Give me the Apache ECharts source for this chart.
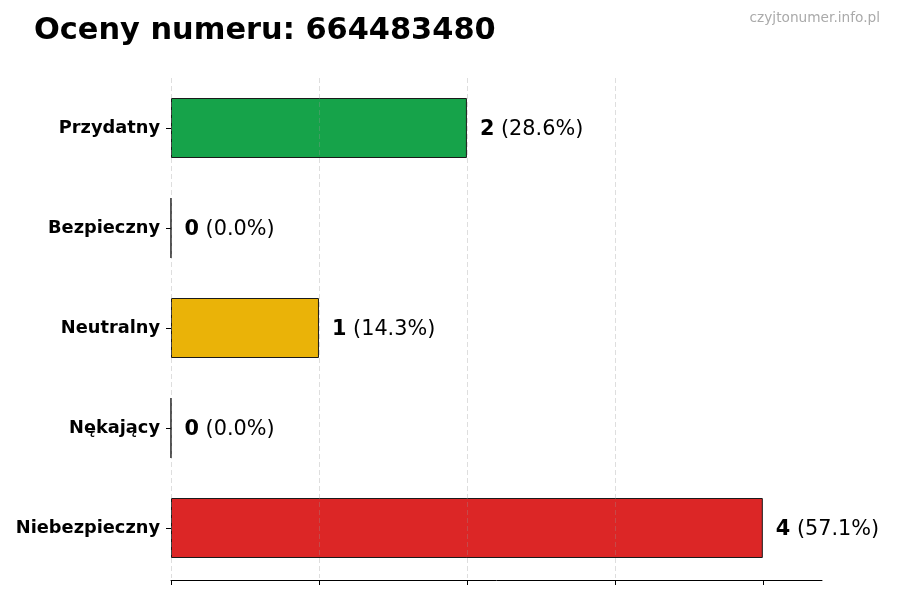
<!DOCTYPE html>
<html>
<head>
<meta charset="utf-8">
<script src="https://cdn.jsdelivr.net/npm/echarts@6/dist/echarts.min.js"></script>
<style>
html,body{margin:0;padding:0;background:#fff;}
#chart{width:900px;height:600px;}
</style>
</head>
<body>
<div id="chart"></div>
<script>
const titleText = 'Oceny numeru: 664483480';
const watermark = 'czyjtonumer.info.pl';
const categories = ['Przydatny', 'Bezpieczny', 'Neutralny', 'Nękający', 'Niebezpieczny'];
const values = [2, 0, 1, 0, 4];
const barColors = ['#16a34a', '#2563eb', '#eab308', '#ea580c', '#dc2626'];
const xTicks = [0, 1, 2, 3, 4];
const xMax = 4.4;

const total = values.reduce((a, b) => a + b, 0);
const font = 'DejaVu Sans';

const chart = echarts.init(document.getElementById('chart'));
chart.setOption({
  animation: false,
  backgroundColor: '#fff',
  textStyle: { fontFamily: font },
  title: [
    {
      text: titleText,
      left: 29,
      top: 11,
      textStyle: { fontFamily: font, fontSize: 30.4, fontWeight: 'bold', color: '#000' }
    },
    {
      text: watermark,
      right: 15,
      top: 6,
      textStyle: { fontFamily: font, fontSize: 13.7, fontWeight: 'normal', color: '#aaaaaa' }
    }
  ],
  grid: { left: 171, right: 78, top: 78, height: 500, containLabel: false },
  xAxis: {
    type: 'value',
    min: 0,
    max: xMax,
    interval: 1,
    z: 3,
    offset: 2,
    axisLine: { show: true, lineStyle: { color: '#000', width: 1 } },
    axisTick: { show: true, length: 5, customValues: xTicks, lineStyle: { color: '#000' } },
    axisLabel: { show: false },
    splitLine: {
      show: true,
      showMaxLine: false,
      lineStyle: { color: 'rgba(150,150,150,0.4)', type: [5, 3], width: 0.8 }
    }
  },
  yAxis: {
    type: 'category',
    inverse: true,
    data: categories,
    axisLine: { show: false },
    axisTick: { show: true, length: 5, alignWithLabel: true, lineStyle: { color: '#000' } },
    axisLabel: { margin: 11, fontFamily: font, fontSize: 17.8, fontWeight: 'bold', color: '#000', padding: [3, 0, 0, 0] },
    splitLine: { show: false }
  },
  series: [{
    type: 'bar',
    data: values.map((v, i) => ({ value: v, itemStyle: { color: barColors[i] } })),
    barWidth: 60,
    itemStyle: { borderColor: '#1a1a1a', borderWidth: 1 },
    label: {
      show: true,
      position: 'right',
      distance: 13,
      fontFamily: font,
      fontSize: 20.8,
      color: '#000',
      padding: [3, 0, 0, 0],
      formatter: p => '{a|' + p.value + '} {b|(' + (p.value / total * 100).toFixed(1) + '%)}',
      rich: {
        a: { fontFamily: font, fontSize: 20.8, fontWeight: 'bold', color: '#000' },
        b: { fontFamily: font, fontSize: 20.8, fontWeight: 'normal', color: '#000' }
      }
    }
  }]
});
</script>
</body>
</html>
